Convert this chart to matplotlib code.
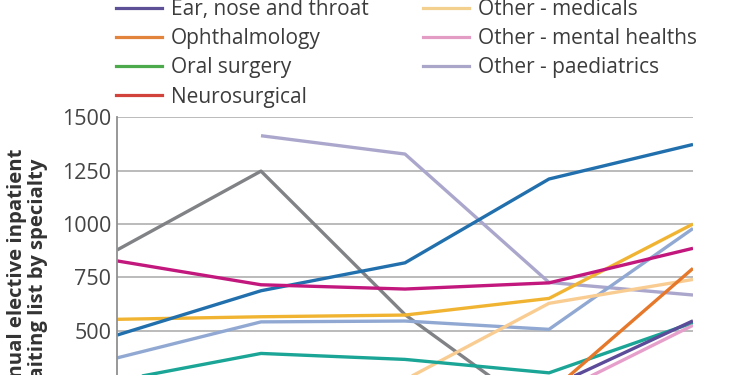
import numpy as np
import matplotlib
matplotlib.use("Agg")
import matplotlib.pyplot as plt
from matplotlib.lines import Line2D

plt.rcParams['font.family'] = ['Open Sans', 'DejaVu Sans']

# x positions of the five periods (axis labels are cropped out of view)
periods = [0, 1, 2, 3, 4]
nan = np.nan

# values (nan where the line is out of view)
paediatrics_line = [nan, 1414, 1328, 726, 667]
gray_line = [878, 1248, 575, 85, nan]
lightblue_line = [372, 541, 545, 506, 979]
peach_line = [nan, nan, 270, 628, 740]
teal_line = [265, 393, 365, 302, 537]
orange_line = [nan, nan, nan, 206, 792]
pink_line = [nan, nan, nan, 189, 525]
purple_line = [nan, nan, nan, 232, 546]
gold_line = [553, 565, 573, 651, 1000]
blue_line = [479, 687, 818, 1211, 1373]
magenta_line = [827, 715, 695, 724, 886]

series = [paediatrics_line, gray_line, lightblue_line, peach_line, teal_line,
          orange_line, pink_line, purple_line, gold_line, blue_line, magenta_line]
colors = ['#aba7cc', '#808285', '#91a9d2', '#f9cc92', '#1aa596',
          '#e5782a', '#e69fcb', '#5b4b98', '#f1b432', '#2170ad', '#c2177d']

legend_labels = ['Ear, nose and throat', 'Ophthalmology', 'Oral surgery', 'Neurosurgical',
                 'Other - medicals', 'Other - mental healths', 'Other - paediatrics']
legend_colors = ['#5e5096', '#e2843c', '#4caa4c', '#d2433c',
                 '#f3d08e', '#e39dc4', '#aaa6ca']

yticks = [0, 250, 500, 750, 1000, 1250, 1500]

fig = plt.figure(figsize=(7.5, 3.75), dpi=100)
ax = fig.add_axes([0.156, -0.166, 0.768, 0.853])

for vals, c in zip(series, colors):
  ax.plot(periods, vals, color=c, lw=2.4, solid_capstyle='butt')

ax.set_xlim(periods[0], periods[-1])
ax.set_ylim(0, 1500)
ax.set_yticks(yticks)
ax.set_xticks([])
ax.yaxis.grid(True, color='#b5b5b5', lw=1.3)
ax.set_axisbelow(True)
for s in ['top', 'right', 'bottom']:
  ax.spines[s].set_visible(False)
ax.spines['left'].set_color('#909090')
ax.spines['left'].set_linewidth(1.3)
ax.tick_params(axis='y', length=0, pad=4, labelsize=15.5, labelcolor='#444444')

fig.text(0.037, 0.261, 'Annual elective inpatient\nwaiting list by specialty',
         rotation=90, ha='center', va='center', fontsize=14.6, fontweight='bold',
         color='#333333', linespacing=1.05, multialignment='center')

handles = [Line2D([], [], color=c, lw=2.3) for c in legend_colors]
fig.legend(handles, legend_labels, ncol=2, loc='upper left',
           bbox_to_anchor=(0.155, 1.002), frameon=False, fontsize=15,
           labelcolor='#3c3c3c', handlelength=2.2, handletextpad=0.43,
           columnspacing=2.6, labelspacing=0.39, borderpad=0, borderaxespad=0)

fig.savefig('out.png', dpi=100)
